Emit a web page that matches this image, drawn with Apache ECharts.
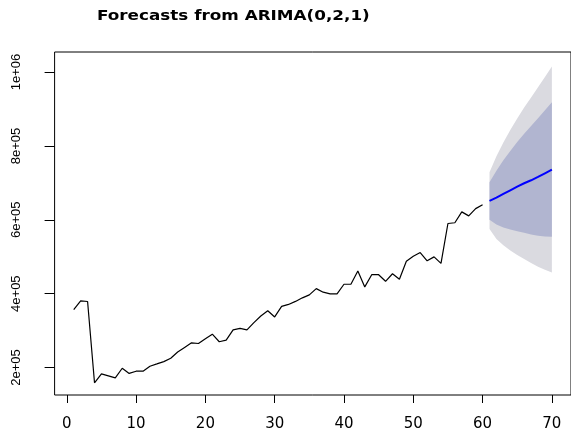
<!DOCTYPE html>
<html>
<head>
<meta charset="utf-8">
<script src="https://cdn.jsdelivr.net/npm/echarts@6/dist/echarts.min.js"></script>
<style>
  html, body { margin: 0; padding: 0; background: #fff; }
  #main { width: 571px; height: 432px; }
</style>
</head>
<body>
<div id="main"></div>
<script>
// observed series, t = 1..60
var histVals = [356500, 380700, 378800, 158700, 182800, 177500, 172000, 198000, 184000, 190000,
                190000, 203500, 209700, 216000, 225000, 241900, 254500, 267000, 265000, 278000,
                290200, 269800, 274000, 302000, 306000, 302000, 321600, 339600, 353800, 337000,
                365400, 370800, 379000, 388700, 396800, 413700, 404000, 399500, 399500, 425500,
                425500, 461200, 418300, 451300, 451300, 433500, 454000, 438900, 488000, 501500,
                511400, 488900, 499600, 481900, 590000, 592000, 621500, 610700, 630300, 641000];

// forecast horizon
var fcX    = [61, 62, 63, 64, 65, 66, 67, 68, 69, 70];
var fcMean = [651000, 660000, 670000, 680000, 690000, 699000, 707000, 716000, 726000, 736000];
var lo80   = [600000, 587000, 579000, 574000, 569000, 565000, 560000, 557000, 555000, 554000];
var hi80   = [702000, 733000, 761000, 786000, 811000, 833000, 854000, 875000, 897000, 918000];
var lo95   = [575000, 548000, 531000, 517000, 505000, 494000, 483000, 473000, 465000, 457000];
var hi95   = [729000, 772000, 809000, 843000, 874000, 904000, 931000, 959000, 987000, 1015000];

var xTicks = [0, 10, 20, 30, 40, 50, 60, 70];
var yTicks = [200000, 400000, 600000, 800000, 1000000];

var histData = histVals.map(function (v, i) { return [i + 1, v]; });
function pairs(arr) { return arr.map(function (v, i) { return [fcX[i], v]; }); }

function sci(v) {
  var e = Math.floor(Math.log10(v) + 1e-9);
  var m = Math.round(v / Math.pow(10, e));
  return m + 'e+' + (e < 10 ? '0' : '') + e;
}

var light = '#dadae0';
var dark = '#b1b5d0';

// shaded prediction interval between lower and upper arrays
function band(lower, upper, color, z) {
  return {
    type: 'custom', silent: true, z: z, data: [0],
    renderItem: function (params, api) {
      var pts = [];
      for (var i = 0; i < fcX.length; i++) pts.push(api.coord([fcX[i], upper[i]]));
      for (var j = fcX.length - 1; j >= 0; j--) pts.push(api.coord([fcX[j], lower[j]]));
      return { type: 'polygon', shape: { points: pts }, style: { fill: color } };
    }
  };
}

var chart = echarts.init(document.getElementById('main'));
chart.setOption({
  animation: false,
  graphic: [{
    type: 'text', left: 97, top: 9, scaleX: 1.2,
    style: { text: 'Forecasts from ARIMA(0,2,1)', fill: '#000',
             font: 'bold 14px "DejaVu Sans"' }
  }],
  grid: {
    left: 54.6, top: 52, right: -9, bottom: 34,
    show: true, borderColor: '#000', borderWidth: 1, backgroundColor: 'transparent'
  },
  xAxis: {
    type: 'value', min: -1.76, max: 72.76,
    splitLine: { show: false },
    axisLine: { show: false, onZero: false },
    axisTick: { show: true, length: 8, inside: false, customValues: xTicks,
                lineStyle: { color: '#000', width: 1 } },
    axisLabel: { customValues: xTicks, margin: 22, color: '#000',
                 fontFamily: 'DejaVu Sans', fontSize: 15 }
  },
  yAxis: {
    type: 'value', min: 125600, max: 1054400,
    splitLine: { show: false },
    axisLine: { show: false, onZero: false },
    axisTick: { show: true, length: 10, inside: false, customValues: yTicks,
                lineStyle: { color: '#000', width: 1 } },
    axisLabel: { customValues: yTicks, rotate: 90, margin: 32, color: '#000',
                 fontFamily: 'Liberation Sans', fontSize: 13, formatter: sci }
  },
  series: [
    band(lo95, hi95, light, 1),
    band(lo80, hi80, dark, 2),
    {
      type: 'line', data: histData, symbol: 'none', silent: true, z: 3,
      lineStyle: { color: '#000', width: 1.2 }
    },
    {
      type: 'line', data: pairs(fcMean), symbol: 'none', silent: true, z: 4,
      lineStyle: { color: '#0000ff', width: 2 }
    }
  ]
});
</script>
</body>
</html>
